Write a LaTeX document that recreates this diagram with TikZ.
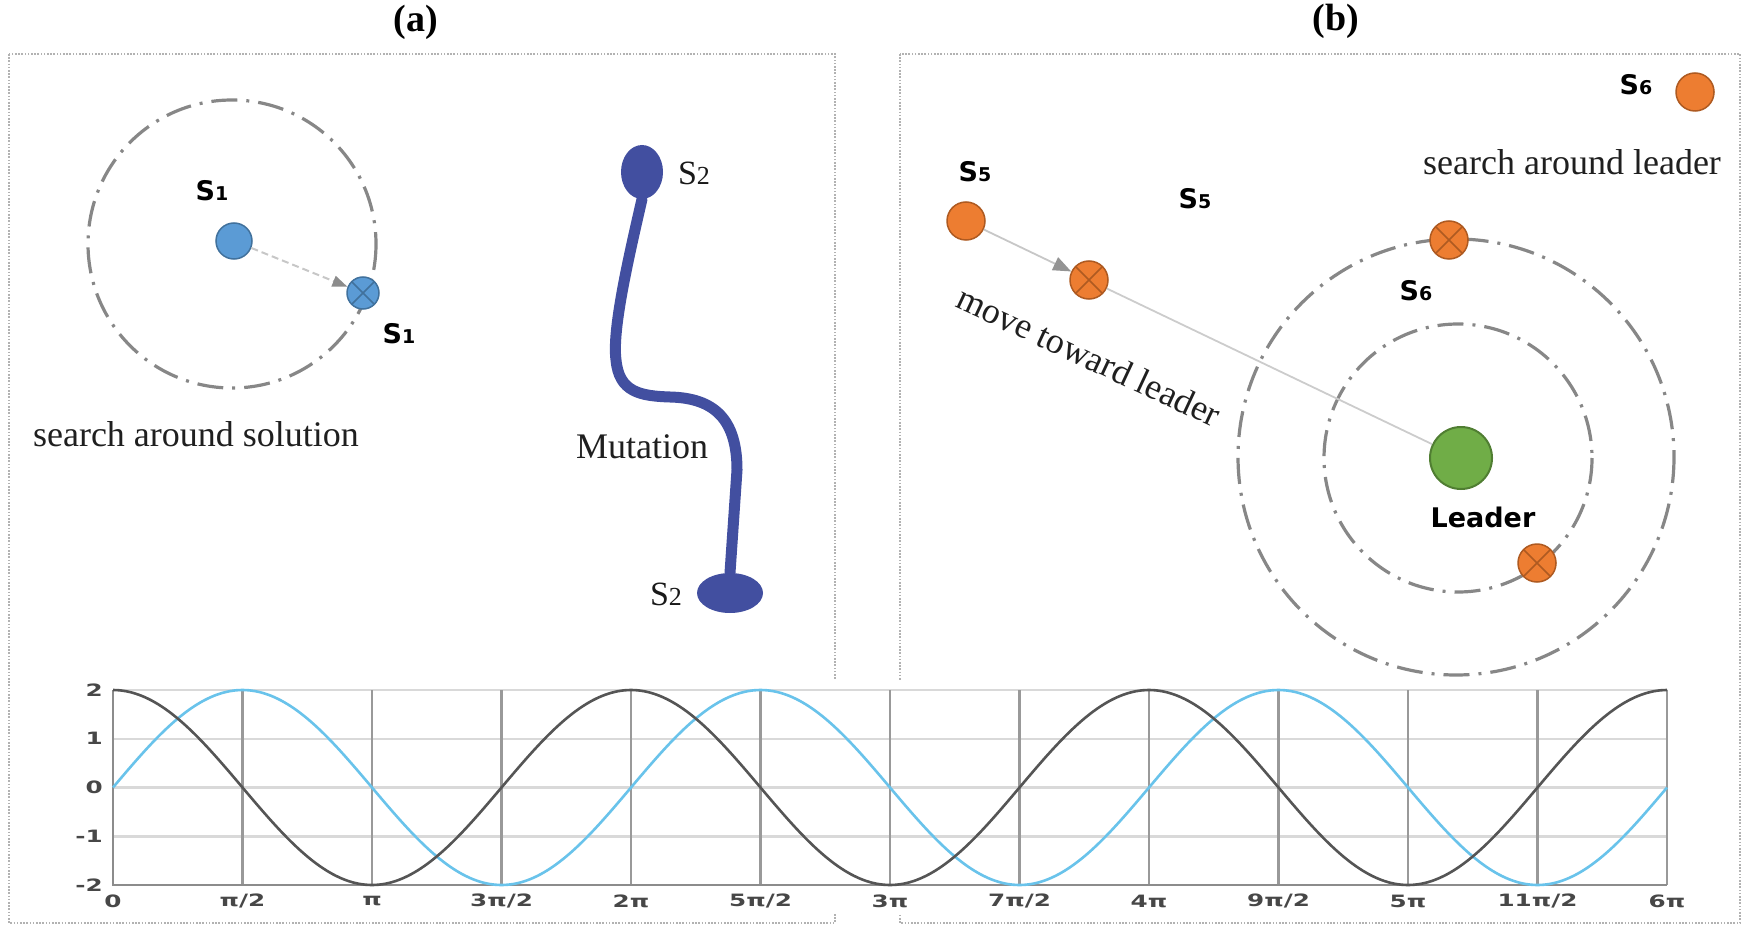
\documentclass[tikz,border=0pt]{standalone}
\usepackage{fontspec}
\setmainfont{Liberation Serif}
\newfontfamily\labfont{DejaVu Sans}
\usetikzlibrary{arrows.meta,shapes.geometric}
\definecolor{dotblue}{RGB}{91,155,213}
\definecolor{dotblueline}{RGB}{65,113,156}
\definecolor{dotorange}{RGB}{237,125,49}
\definecolor{dotorangeline}{RGB}{174,90,33}
\definecolor{dotgreen}{RGB}{112,173,71}
\definecolor{dotgreenline}{RGB}{80,126,50}
\definecolor{mutblue}{RGB}{66,79,160}
\definecolor{ringgray}{RGB}{135,135,135}
\definecolor{sinblue}{RGB}{105,195,235}
\definecolor{cosgray}{RGB}{85,85,85}
\newcommand{\slab}[1]{{\fontsize{19}{20}\selectfont #1}}
\newcommand{\slabs}[1]{{\fontsize{26}{28}\selectfont #1}}

\begin{document}
\begin{tikzpicture}
[x=1pt,y=-1pt,
 panel/.style={draw=black!30,line width=1.8pt,dash pattern=on 1.6pt off 1.6pt},
 ring/.style={draw=ringgray,line width=3.2pt,dash pattern=on 26pt off 9pt on 3pt off 9pt},
 bluedot/.style={circle,fill=dotblue,draw=dotblueline,line width=1.5pt,inner sep=0pt,minimum size=36pt},
 orangedot/.style={circle,fill=dotorange,draw=dotorangeline,line width=1.5pt,inner sep=0pt,minimum size=38pt},
 leaderdot/.style={circle,fill=dotgreen,draw=dotgreenline,line width=2pt,inner sep=0pt,minimum size=62pt},
 crossed/.style={path picture={\draw[line width=1.6pt,draw=#1] (path picture bounding box.south west) -- (path picture bounding box.north east) (path picture bounding box.north west) -- (path picture bounding box.south east);}},
 blob/.style={ellipse,fill=mutblue,inner sep=0pt},
 mutline/.style={draw=mutblue,line width=11pt,line cap=round},
 searcharrow/.style={draw=black!22,line width=2pt,dash pattern=on 7pt off 4pt,-{Triangle[length=15pt,width=11pt,color=black!45]}},
 movearrow/.style={draw=black!22,line width=1.8pt,-{Triangle[length=18pt,width=14pt,color=black!42]}},
 moveline/.style={draw=black!20,line width=1.8pt},
 note/.style={font=\fontsize{36}{40}\selectfont,text=black!88},
 serifs/.style={font=\fontsize{34}{38}\selectfont,text=black!90},
 sname/.style={font=\labfont\bfseries\fontsize{27}{30}\selectfont},
 title/.style={font=\bfseries\fontsize{38}{40}\selectfont},
 tick/.style={font=\labfont\bfseries\fontsize{17}{18}\selectfont,text=black!72,xscale=1.45,inner sep=0pt},
 hgrid/.style={draw=black!15,line width=2.5pt},
 vgrid/.style={draw=black!40,line width=2.2pt},
 axisline/.style={draw=black!45,line width=2.2pt}]
\useasboundingbox (0,0) rectangle (1755,933);

\node[title] (ta) at (416,22) {(a)};
\node[title] (tb) at (1336,21) {(b)};
\draw[panel] (9,54) rectangle (835,923);
\draw[panel] (900,54) rectangle (1740,923);

\draw[ring] (232,244) circle[radius=144];
\node[bluedot] (s1) at (234,241) {};
\node[bluedot,crossed=dotblueline,minimum size=32pt] (s1x) at (363,293) {};
\node[sname] (s1l) at (212,191) {S\slab{1}};
\node[sname] (s1xl) at (399,334) {S\slab{1}};
\node[note] (sas) at (196,434) {search around solution};
\draw[searcharrow] (s1) -- (s1x);

\node[blob,minimum width=42pt,minimum height=54pt] (s2a) at (642,172) {};
\node[blob,minimum width=66pt,minimum height=40pt] (s2b) at (730,593) {};
\node[serifs] (s2al) at (694,173) {S\slabs{2}};
\node[serifs] (s2bl) at (666,594) {S\slabs{2}};
\node[note] (mut) at (642,447) {Mutation};
\draw[mutline] (s2a.south) .. controls (628,260) and (612,330) .. (616,360) .. controls (619,392) and (640,396) .. (670,397) .. controls (715,398) and (737,420) .. (737,470) -- (s2b.north);

\draw[ring] (1458,458) circle[radius=134];
\draw[ring] (1456,457) circle[radius=218];
\node[leaderdot] (ld) at (1461,458) {};
\node[sname] (ldl) at (1483,517) {Leader};
\node[orangedot] (s5) at (966,221) {};
\node[orangedot,crossed=dotorangeline] (s5x) at (1089,280) {};
\node[orangedot] (s6) at (1695,92) {};
\node[orangedot,crossed=dotorangeline] (s6a) at (1449,240) {};
\node[orangedot,crossed=dotorangeline] (s6b) at (1537,563) {};
\node[sname] (s5l) at (975,172) {S\slab{5}};
\node[sname] (s5xl) at (1195,199) {S\slab{5}};
\node[sname] (s6l) at (1636,85) {S\slab{6}};
\node[sname] (s6al) at (1416,291) {S\slab{6}};
\node[note] (sal) at (1572,162) {search around leader};
\node[note,rotate=-25] (mtl) at (1089,356) {move toward leader};
\draw[moveline] (s5x) -- (ld);
\draw[movearrow] (s5) -- (s5x);

\fill[white] (40,680) rectangle (1705,913);
\foreach \j in {0,...,4}
  \draw[hgrid] (113,{690+48.75*\j}) -- (1667,{690+48.75*\j});
\foreach \i in {0,...,12}
  \draw[vgrid] ({113+129.5*\i},690) -- ({113+129.5*\i},885);
\draw[axisline] (113,690) -- (113,885) -- (1667,885);
\draw[sinblue,line width=2.6pt] plot[domain=0:1080,samples=241,smooth] ({113+1.43889*\x},{787.5-97.5*sin(\x)});
\draw[cosgray,line width=2.6pt] plot[domain=0:1080,samples=241,smooth] ({113+1.43889*\x},{787.5-97.5*cos(\x)});
\foreach \j/\t in {0/2,1/1,2/0,3/-1,4/-2}
  \node[tick,anchor=east] (yt\j) at (103,{690+48.75*\j}) {\t};
\foreach \i/\t in {0/0,1/{π/2},2/π,3/{3π/2},4/{2π},5/{5π/2},6/{3π},7/{7π/2},8/{4π},9/{9π/2},10/{5π},11/{11π/2},12/{6π}}
  \node[tick] (xt\i) at ({113+129.5*\i},901) {\t};
\end{tikzpicture}
\end{document}
